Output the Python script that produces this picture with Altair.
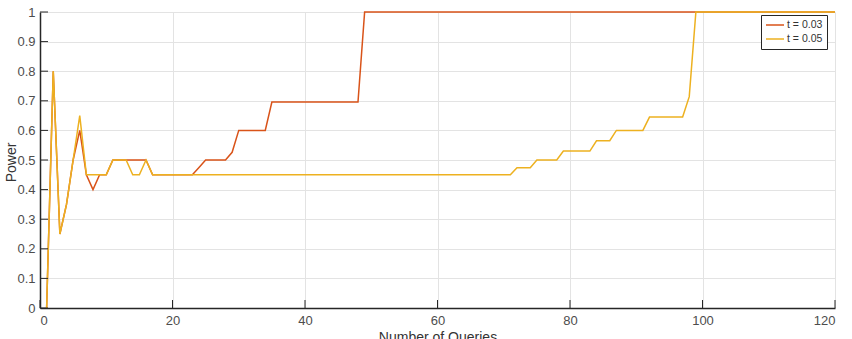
import altair as alt
import pandas as pd

# Series vertices (query count, power)
red_x = [1, 2, 3, 4, 5, 6, 7, 8, 9, 10, 11, 16, 17, 23, 24, 25, 28, 29, 30, 34, 35, 48, 49, 120]
red_y = [0, 0.8, 0.25, 0.35, 0.5, 0.6, 0.45, 0.4, 0.45, 0.45, 0.5, 0.5, 0.45, 0.45, 0.475, 0.5, 0.5, 0.526, 0.6, 0.6, 0.696, 0.696, 1, 1]

yel_x = [1, 2, 3, 4, 5, 6, 7, 10, 11, 13, 14, 15, 16, 17, 71, 72, 74, 75, 78, 79, 83, 84, 86, 87, 91, 92, 97, 98, 99, 120]
yel_y = [0, 0.8, 0.25, 0.35, 0.5, 0.65, 0.45, 0.45, 0.5, 0.5, 0.45, 0.45, 0.5, 0.45, 0.45, 0.474, 0.474, 0.5, 0.5, 0.53, 0.53, 0.565, 0.565, 0.6, 0.6, 0.645, 0.645, 0.714, 1, 1]

series_names = ["t = 0.03", "t = 0.05"]
series_colors = ["#D95319", "#EDB120"]

x_ticks = [0, 20, 40, 60, 80, 100, 120]
y_ticks = [0, 0.1, 0.2, 0.3, 0.4, 0.5, 0.6, 0.7, 0.8, 0.9, 1]

rows = []
for i, (xs, ys) in enumerate([(red_x, red_y), (yel_x, yel_y)]):
    for k, (a, b) in enumerate(zip(xs, ys)):
        rows.append({"q": a, "p": b, "s": series_names[i], "o": k})
df = pd.DataFrame(rows)

xscale = alt.Scale(domain=[0, 120], nice=False, zero=False)
yscale = alt.Scale(domain=[0, 1], nice=False, zero=False)

xaxis = alt.Axis(values=x_ticks, title="Number of Queries", ticks=False,
                 labelPadding=6, titlePadding=3)
yaxis = alt.Axis(values=y_ticks, title="Power", ticks=False, format=".1~f",
                 labelPadding=5, titleX=-22, titleY=150)

lines = alt.Chart(df).mark_line(strokeWidth=1.5).encode(
    x=alt.X("q:Q", scale=xscale, axis=xaxis),
    y=alt.Y("p:Q", scale=yscale, axis=yaxis),
    color=alt.Color("s:N", scale=alt.Scale(domain=series_names, range=series_colors),
                    legend=alt.Legend(title=None, orient="none", legendX=721, legendY=3,
                                      symbolType="stroke", symbolSize=324, symbolStrokeWidth=1.5,
                                      labelFontSize=10.5, labelOffset=2, padding=4,
                                      rowPadding=2, clipHeight=12,
                                      fillColor="white", strokeColor="#262626",
                                      labelColor="#333333", labelFont="Liberation Sans")),
    order="o:Q",
)

xt = alt.Chart(pd.DataFrame({"q": x_ticks})).mark_rule(color="#262626", strokeWidth=1).encode(
    x=alt.X("q:Q", scale=xscale, axis=xaxis),
    y=alt.value(296), y2=alt.value(288),
)
yt = alt.Chart(pd.DataFrame({"p": y_ticks})).mark_rule(color="#262626", strokeWidth=1).encode(
    y=alt.Y("p:Q", scale=yscale, axis=yaxis),
    x=alt.value(0), x2=alt.value(8),
)

chart = alt.layer(lines, xt, yt).properties(
    width=795, height=296,
    autosize=alt.AutoSizeParams(type="none"),
    padding={"left": 40, "top": 12, "right": 17, "bottom": 31},
    background="white",
).configure_view(stroke=None).configure_axis(
    labelFont="Liberation Sans", titleFont="Liberation Sans",
    labelFontSize=13, titleFontSize=14, titleFontWeight="normal",
    labelColor="#4d4d4d", titleColor="#333333",
    domainColor="#262626", domainWidth=1.5,
    gridColor="#e3e3e3", gridWidth=1,
)

chart.save("out.html", embed_options={"renderer": "svg", "actions": False})
